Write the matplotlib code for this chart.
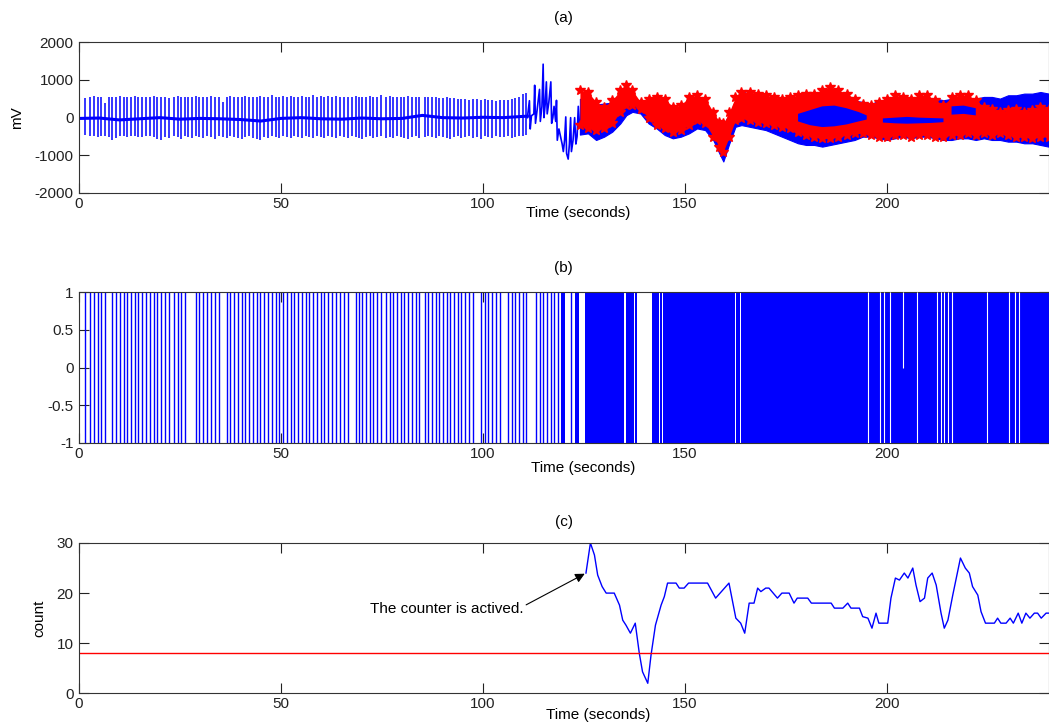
import numpy as np
import matplotlib
matplotlib.use('Agg')
import matplotlib.pyplot as plt

plt.rcParams['font.family'] = ['Liberation Sans', 'DejaVu Sans']
plt.rcParams['font.size'] = 11
plt.rcParams['axes.unicode_minus'] = False

# ---- (a) ECG, regular part: baseline + one spike per beat ----
base_t = [0.5, 5, 10, 15, 20, 25, 30, 35, 40, 45, 50, 55, 60, 65, 70, 75, 80, 85, 90, 95, 100, 105, 111]
base_v = [-20, -10, -60, -30, 0, -40, -20, -30, -50, -90, -20, 0, -30, -40, -10, -30, -20, 60, 0, -10, 10, 0, 40]

ecg_t = [1.48, 2.72, 3.71, 4.62, 5.44, 6.43, 7.34, 8.25, 9.24, 10.14,
         11.05, 11.96, 12.87, 13.85, 14.68, 15.67, 16.58, 17.48, 18.47, 19.38,
         20.29, 21.19, 22.18, 23.50, 24.41, 25.32, 26.14, 27.05, 27.95, 28.86,
         29.69, 30.68, 31.67, 32.66, 33.65, 34.55, 35.54, 36.53, 37.44, 38.35,
         39.34, 40.24, 41.15, 42.14, 43.05, 43.96, 44.86, 45.85, 46.76, 47.67,
         48.66, 49.56, 50.47, 51.38, 52.37, 53.27, 54.10, 55.09, 56.08, 56.98,
         57.89, 58.88, 59.79, 60.70, 61.69, 62.59, 63.50, 64.55, 65.50, 66.50,
         67.47, 68.45, 69.27, 70.18, 71.17, 72.08, 72.90, 73.89, 74.80, 76.03,
         76.94, 77.77, 78.67, 79.66, 80.57, 81.48, 82.39, 83.37, 84.28, 85.60,
         86.43, 87.33, 88.32, 89.23, 90.14, 91.04, 91.95, 92.86, 93.77, 94.67,
         95.58, 96.57, 97.56, 98.55, 99.54, 100.45, 101.35, 102.26, 103.17, 104.16,
         105.19, 106.22, 107.13, 108.03, 108.94, 109.85, 110.76]
ecg_hi = [520, 560, 570, 540, 560, 380, 540, 560, 550, 570,
          560, 540, 560, 570, 560, 540, 560, 550, 570, 560,
          540, 560, 520, 560, 570, 550, 560, 540, 560, 570,
          550, 560, 540, 570, 560, 550, 420, 560, 570, 550,
          560, 540, 570, 560, 550, 560, 570, 540, 560, 600,
          560, 550, 570, 560, 580, 560, 540, 570, 560, 550,
          600, 560, 570, 550, 580, 560, 570, 560, 540, 560,
          550, 570, 560, 540, 560, 570, 550, 560, 600, 560,
          570, 550, 560, 540, 560, 570, 550, 560, 540, 560,
          550, 560, 540, 520, 530, 540, 520, 510, 500, 490,
          490, 480, 500, 490, 480, 500, 470, 460, 450, 480,
          460, 470, 500, 520, 560, 620, 650]
ecg_lo = [-450, -500, -480, -520, -500, -480, -510, -600, -550, -480,
          -500, -520, -480, -500, -510, -520, -480, -500, -520, -560,
          -600, -520, -540, -500, -520, -560, -500, -520, -540, -500,
          -520, -540, -500, -520, -560, -500, -520, -540, -500, -520,
          -540, -560, -520, -500, -540, -560, -580, -520, -540, -500,
          -520, -540, -500, -520, -540, -500, -520, -540, -500, -520,
          -540, -500, -520, -540, -500, -520, -540, -500, -520, -540,
          -500, -520, -540, -560, -520, -500, -540, -520, -500, -540,
          -520, -540, -500, -520, -540, -560, -520, -500, -540, -520,
          -500, -520, -540, -500, -520, -540, -560, -520, -500, -540,
          -520, -500, -540, -520, -560, -500, -520, -540, -500, -520,
          -520, -500, -540, -520, -500, -480, -450]

# irregular part before detection starts
chaos_t = [111.0, 111.5, 111.7, 112.0, 112.6, 112.8, 113.0, 113.4, 114.0, 114.2,
           114.6, 114.9, 115.1, 115.4, 115.7, 115.9, 116.3, 116.8, 117.0, 117.3,
           117.6, 118.0, 118.2, 118.4, 118.8, 119.2, 119.6, 119.9, 120.2, 120.5,
           120.7, 121.1, 121.4, 121.7, 121.9, 122.3, 122.7, 123.0, 123.3, 123.6, 123.9]
chaos_v = [0, 450, -300, 50, 100, 860, -150, 200, 750, -100,
           300, 1420, 0, 350, 950, 100, 400, 950, -150, 0,
           300, -100, 460, -600, -300, -500, -700, -900, -600, 20,
           -950, -1100, -700, 0, -900, -600, 0, -700, -500, 300, -200]

# dense part: envelopes of the blue signal and of the red '*' samples
dense_t = [124, 126, 128, 130, 132, 134, 135.5, 137, 139, 141,
           143, 145, 147, 149, 151, 153, 155, 157, 158.5, 159.5,
           161, 162.5, 164, 166, 168, 170, 172, 174, 176, 178,
           180, 182, 184, 186, 188, 190, 192, 194, 196, 198,
           200, 202, 204, 206, 208, 210, 212, 214, 216, 218,
           220, 222, 224, 226, 228, 230, 232, 234, 236, 238, 240]
red_hi = [725, 681, 418, 286, 462, 725, 857, 725, 418, 506,
          550, 506, 286, 330, 550, 594, 506, 154, -110, -154,
          154, 550, 681, 681, 638, 594, 550, 506, 550, 594,
          638, 638, 725, 813, 725, 638, 506, 374, 330, 418,
          506, 594, 550, 506, 594, 594, 462, 330, 550, 594,
          594, 462, 286, 242, 154, 200, 242, 154, 200, 286, 242]
red_lo = [-198, -285, -330, -285, -154, 154, 330, 330, 242, -22,
          -198, -285, -373, -330, -198, -66, -154, -505, -769, -901,
          -505, -66, -22, -66, -110, -154, -198, -242, -285, -373,
          -461, -505, -549, -549, -505, -461, -417, -417, -461, -505,
          -505, -461, -461, -505, -461, -461, -505, -505, -461, -461,
          -417, -461, -417, -461, -417, -461, -505, -505, -549, -505, -505]
blue_hi = [500, 450, 350, 374, 400, 500, 600, 500, 350, 420,
           450, 400, 250, 300, 450, 500, 420, 100, -150, -200,
           100, 450, 725, 600, 550, 500, 450, 420, 450, 500,
           500, 500, 550, 600, 550, 500, 450, 418, 350, 462,
           450, 500, 450, 450, 500, 500, 506, 462, 500, 500,
           500, 506, 550, 550, 506, 594, 594, 638, 638, 681, 640]
blue_lo = [-450, -417, -593, -505, -373, -154, 66, 154, 110, -154,
           -286, -461, -549, -505, -417, -286, -330, -593, -945, -1164,
           -681, -242, -198, -242, -286, -330, -417, -505, -593, -681,
           -725, -725, -769, -725, -681, -637, -593, -505, -505, -549,
           -593, -549, -505, -549, -505, -505, -549, -593, -593, -549,
           -549, -593, -549, -593, -593, -637, -637, -681, -681, -725, -769]
# blue visible inside the red band
core_t = [178, 181, 184, 187, 190, 193, 195, np.nan, 199, 202, 205, 208, 211, 214, np.nan, 216, 219, 222]
core_hi = [100, 200, 300, 320, 250, 150, 60, np.nan, -20, 0, 20, 0, -10, -20, np.nan, 300, 320, 250]
core_lo = [-100, -200, -250, -230, -180, -100, -50, np.nan, -130, -150, -160, -150, -140, -120, np.nan, 80, 100, 60]

# ---- (b) detector output ----
b_pulse = [1.48, 2.72, 3.71, 4.62, 5.44, 6.43, 8.25, 9.24, 10.14, 11.05, 11.96, 12.87,
           13.85, 14.68, 15.67, 16.58, 17.48, 18.47, 19.38, 20.29, 21.19, 22.18, 23.50,
           24.41, 25.32, 26.14, 28.86, 29.69, 30.68, 31.67, 32.66, 33.65, 34.55, 36.53,
           37.44, 38.35, 39.34, 40.24, 41.15, 42.14, 43.05, 43.96, 44.86, 45.85, 46.76,
           47.67, 48.66, 49.56, 50.47, 51.38, 52.37, 53.27, 54.10, 55.09, 56.08, 56.98,
           57.89, 58.88, 59.79, 60.70, 61.69, 62.59, 63.50, 64.55, 65.50, 66.50, 68.45,
           69.27, 70.18, 71.17, 72.08, 72.90, 73.89, 74.80, 76.03, 76.94, 77.77, 78.67,
           79.66, 80.57, 81.48, 82.39, 83.37, 84.28, 85.60, 86.43, 87.33, 88.32, 89.23,
           90.14, 91.04, 91.95, 92.86, 93.77, 94.67, 95.58, 96.57, 97.56, 99.54, 100.45,
           101.35, 102.26, 103.17, 104.16, 106.22, 107.13, 108.03, 108.94, 109.85, 110.76,
           113.24, 114.05, 114.96, 115.87, 116.78, 117.52, 118.59, 121.72]
b_block_start = [119.25, 122.71, 125.2, 135.5, 137.6, 141.9, 143.8, 144.5, 162.6, 164.0]
b_block_end = [120.24, 123.70, 134.9, 137.3, 138.2, 143.5, 144.2, 162.3, 163.7, 240.0]
b_gap_t = [195.3, 198.3, 199.4, 200.8, 203.9, 207.5, 212.4, 213.3, 214.2, 215.2, 216.1,
           224.8, 230.3, 231.6, 232.7]
b_gap_lo = [-1, -1, -1, -1, 0, -1, -1, -1, -1, -1, -1, -1, -1, -1, -1]

# ---- (c) counter ----
count_t = [125.5, 126.6, 127.6, 128.4, 129.5, 130.5, 132.5, 133.8, 134.6, 135.4,
           136.5, 137.7, 138.7, 139.5, 140.8, 141.6, 142.7, 144.1, 144.9, 145.7,
           147.8, 148.6, 149.8, 150.9, 155.6, 157.6, 160.9, 162.6, 163.8, 164.8,
           165.9, 167.1, 168.0, 168.8, 170.0, 170.8, 172.9, 174.0, 175.8, 177.0,
           177.8, 180.4, 181.3, 186.2, 187.0, 189.1, 190.3, 191.1, 193.2, 194.0,
           195.3, 196.3, 197.3, 198.0, 200.2, 201.0, 202.1, 203.1, 204.3, 205.2,
           206.4, 207.2, 208.2, 209.3, 210.1, 211.2, 212.2, 213.4, 214.2, 215.1,
           216.3, 218.2, 219.4, 220.4, 221.2, 222.5, 223.3, 224.4, 226.6, 227.4,
           228.2, 229.5, 230.5, 231.3, 232.5, 233.4, 234.4, 235.4, 236.5, 237.3,
           238.2, 239.4, 240]
count_v = [24, 30, 27.6, 23.6, 21.3, 20, 20, 17.6, 14.6, 13.6,
           12, 14, 8, 4.3, 2, 7.6, 13.6, 17.6, 19.3, 22,
           22, 21, 21, 22, 22, 19, 22, 15, 14, 12,
           18, 18, 21, 20.3, 21, 21, 19, 20, 20, 18,
           19, 19, 18, 18, 17, 17, 18, 17, 17, 15.3,
           15, 13, 16, 14, 14, 19, 23, 22.6, 24, 23,
           25, 21.6, 18.3, 19, 23, 24, 21.6, 16, 13, 14.6,
           19.6, 27, 25, 24, 21.3, 19.6, 16.3, 14, 14, 15,
           14, 14, 15, 14, 16, 14, 16, 15, 16, 16,
           15, 16, 16]
threshold = 8

W, H = 1049, 724
fig = plt.figure(figsize=(W / 100, H / 100), dpi=100)

def make_axes(top, bottom):
    ax = fig.add_axes([79 / W, 1 - bottom / H, 969.5 / W, (bottom - top) / H])
    ax.tick_params(direction='in', length=7, width=0.8, top=True, right=True,
                   colors='#222222', labelsize=11)
    ax.tick_params(axis='x', pad=3)
    ax.tick_params(axis='y', pad=4)
    for s in ax.spines.values():
        s.set_linewidth(0.8)
        s.set_color('#333333')
    ax.set_xlim(0, 240)
    ax.set_xticks([0, 50, 100, 150, 200])
    return ax

def put_xlabel(ax, cx, cy, top, bottom):
    ax.set_xlabel('Time (seconds)', va='center')
    ax.xaxis.set_label_coords((cx - 79) / 969.5, (bottom - cy) / (bottom - top) * -1 + 0)

def put_title(ax, txt, cy, top, bottom):
    ax.text(0.5, 1 + (top - cy) / (bottom - top), txt, transform=ax.transAxes,
            ha='center', va='center')

# (a)
ax1 = make_axes(42.3, 193)
ax1.plot(base_t, base_v, color='blue', lw=2.2)
ax1.vlines(ecg_t, ecg_lo, ecg_hi, colors='blue', lw=1.1)
ax1.plot(chaos_t, chaos_v, color='blue', lw=1.2)
ax1.fill_between(dense_t, blue_lo, blue_hi, color='blue', lw=0.8, zorder=2)
ax1.fill_between(dense_t, red_lo, red_hi, color='red', lw=0, zorder=3)
ax1.plot(dense_t, red_hi, 'r*', ms=7, zorder=3)
ax1.plot(dense_t, red_lo, 'r*', ms=7, zorder=3)
ax1.fill_between(core_t, core_lo, core_hi, color='blue', lw=0, zorder=4)
ax1.set_ylim(-2000, 2000)
ax1.set_yticks([-2000, -1000, 0, 1000, 2000])
ax1.set_ylabel('mV', va='center')
ax1.yaxis.set_label_coords((17 - 79) / 969.5, 0.5)
put_title(ax1, '(a)', 18, 42.3, 193)
ax1.set_xlabel('Time (seconds)', va='center')
ax1.xaxis.set_label_coords((578 - 79) / 969.5, -(213 - 193) / (193 - 42.3))

# (b)
ax2 = make_axes(292.3, 443)
ax2.vlines(b_pulse, -1, 1, colors='blue', lw=1.0)
for s, e in zip(b_block_start, b_block_end):
    ax2.fill_between([s, e], -1, 1, color='blue', lw=0, zorder=2)
ax2.vlines(b_gap_t, b_gap_lo, 1, colors='white', lw=0.8, zorder=3)
ax2.set_ylim(-1, 1)
ax2.set_yticks([-1, -0.5, 0, 0.5, 1])
ax2.set_yticklabels(['-1', '-0.5', '0', '0.5', '1'])
put_title(ax2, '(b)', 268, 292.3, 443)
ax2.set_xlabel('Time (seconds)', va='center')
ax2.xaxis.set_label_coords((583 - 79) / 969.5, -(468 - 443) / (443 - 292.3))

# (c)
ax3 = make_axes(543, 693.3)
ax3.plot(count_t, count_v, color='blue', lw=1.0)
ax3.axhline(threshold, color='red', lw=1.0)
ax3.set_ylim(0, 30)
ax3.set_yticks([0, 10, 20, 30])
ax3.set_ylabel('count', va='center')
ax3.yaxis.set_label_coords((39 - 79) / 969.5, 0.5)
put_title(ax3, '(c)', 522, 543, 693.3)
ax3.set_xlabel('Time (seconds)', va='center')
ax3.xaxis.set_label_coords((598 - 79) / 969.5, -(715 - 693.3) / (693.3 - 543))
ax3.annotate('The counter is actived.', xy=(count_t[0], count_v[0]), xytext=(110, 16.8),
             ha='right', va='center', fontsize=11,
             arrowprops=dict(arrowstyle='-|>', color='black', lw=0.8,
                             mutation_scale=14, relpos=(1.0, 0.7), shrinkA=0, shrinkB=1))

fig.savefig('out.png', dpi=100)
